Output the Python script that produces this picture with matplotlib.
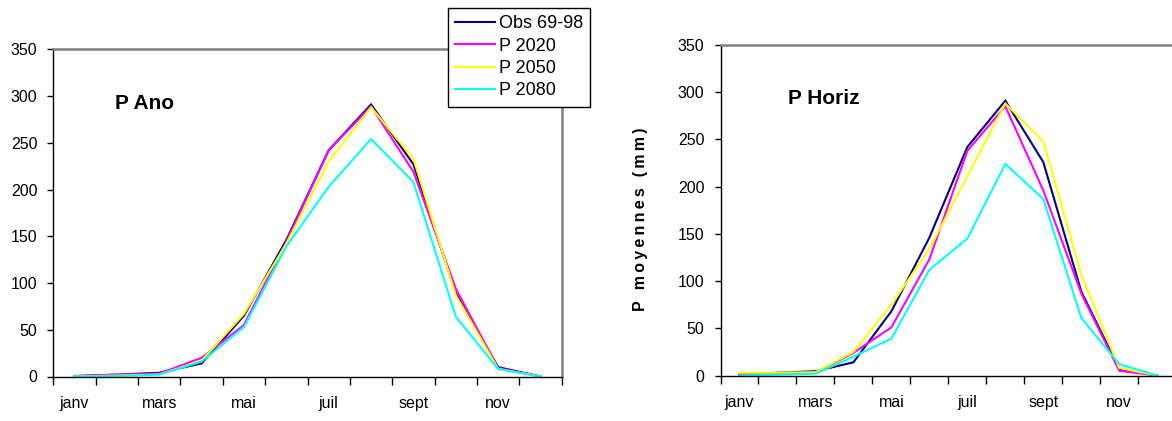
import matplotlib
matplotlib.use('Agg')
import matplotlib.pyplot as plt

plt.rcParams['font.family'] = ['Liberation Sans', 'DejaVu Sans']

# months (only every other one is labelled on the axis)
mois = ['janv', 'févr', 'mars', 'avr', 'mai', 'juin', 'juil', 'août', 'sept', 'oct', 'nov', 'déc']
series = ['Obs 69-98', 'P 2020', 'P 2050', 'P 2080']
couleurs = ['#000080', '#FF00FF', '#FFFF00', '#00FFFF']
yticks = [0, 50, 100, 150, 200, 250, 300, 350]

# P Ano (mm)
ano_obs = [0.5, 2, 4, 14, 65, 146, 242, 291, 227, 89, 10, 0]
ano_2020 = [0.5, 2, 3, 20, 55, 144, 242, 289, 219, 94, 9, 0]
ano_2050 = [0, 1, 2, 17, 67, 142, 230, 288, 233, 87, 8, 0]
ano_2080 = [0, 0.5, 2, 16, 53, 139, 203, 254, 208, 64, 8, 0]

# P Horiz (mm)
hor_obs = [0.5, 3, 4.5, 14, 68, 146, 242, 291, 226, 89, 7, 0]
hor_2020 = [1, 2, 3, 24, 51, 123, 238, 285, 196, 87, 5, 0]
hor_2050 = [3, 3, 3.5, 25, 75, 134, 211, 288, 248, 107, 8, 0]
hor_2080 = [0, 1, 2, 20, 39, 112, 145, 224, 187, 61, 12, 0]

W, H = 1172, 421
fig = plt.figure(figsize=(W / 100, H / 100), dpi=100, facecolor='white')

# axes positions in pixels: left, bottom, right, top
ax1 = fig.add_axes([53.3 / W, (H - 376.5) / H, (561.7 - 53.3) / W, (376.5 - 49.3) / H])
ax2 = fig.add_axes([720.5 / W, (H - 375.5) / H, (1176.2 - 720.5) / W, (375.5 - 45) / H])


def trace(ax, donnees, titre, tx, ty):
    x = list(range(len(mois)))
    for vals, nom, c in zip(donnees, series, couleurs):
        ax.plot(x, vals, color=c, lw=1.5, label=nom, solid_joinstyle='miter')
    ax.set_xlim(-0.5, len(mois) - 0.5)
    ax.set_ylim(0, 350)
    ax.set_yticks(yticks)
    ax.tick_params(axis='y', direction='out', length=4.5, width=1, pad=7, labelsize=11.5)
    # tick marks between categories, labels at category centres
    ax.set_xticks([i - 0.5 for i in range(len(mois) + 1)])
    ax.set_xticklabels([])
    ax.tick_params(axis='x', which='major', direction='out', length=5.5, width=1)
    ax.set_xticks(x[::2], minor=True)
    ax.set_xticklabels(mois[::2], minor=True)
    ax.tick_params(axis='x', which='minor', length=0, pad=14, labelsize=11.5)
    ax.spines['left'].set_color('black')
    ax.spines['bottom'].set_color('black')
    ax.spines['left'].set_linewidth(1)
    ax.spines['bottom'].set_linewidth(1)
    for s in ('top', 'right'):
        ax.spines[s].set_color('#808080')
        ax.spines[s].set_linewidth(1.8)
    fig.text(tx / W, 1 - ty / H, titre, fontsize=15, fontweight='bold', va='center', ha='left')


trace(ax1, [ano_obs, ano_2020, ano_2050, ano_2080], 'P Ano', 115, 103.5)
trace(ax2, [hor_obs, hor_2020, hor_2050, hor_2080], 'P Horiz', 788, 98.5)

# y label, letter spaced like the original
lab = '\u2009'.join('P moyennes (mm)')
fig.text(641 / W, 1 - 219 / H, lab, rotation=90, fontsize=11.5, fontweight='bold',
         ha='center', va='center', family=['Liberation Sans', 'DejaVu Sans'])

h, l = ax1.get_legend_handles_labels()
leg = fig.legend(h, l, loc='upper left', bbox_to_anchor=(448 / W, 1 - 8 / H),
                 fontsize=13, frameon=True, fancybox=False, framealpha=1,
                 edgecolor='black', borderaxespad=0, borderpad=0.4,
                 handlelength=2.2, handletextpad=0.2, labelspacing=0.3)
leg.get_frame().set_linewidth(1)

fig.savefig('out.png', dpi=100, facecolor='white')
